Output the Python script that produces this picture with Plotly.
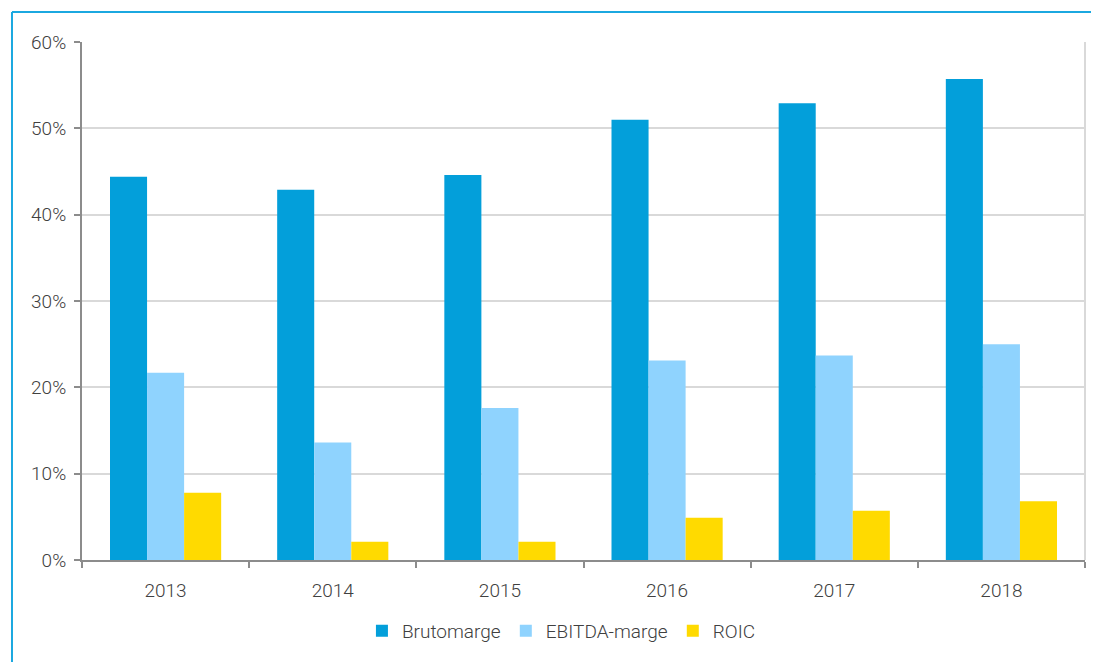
import plotly.graph_objects as go

years = ["2013", "2014", "2015", "2016", "2017", "2018"]
brutomarge = [44.4, 42.9, 44.6, 51.0, 52.9, 55.7]
ebitda_marge = [21.7, 13.6, 17.6, 23.1, 23.7, 25.0]
roic = [7.8, 2.1, 2.1, 4.9, 5.7, 6.8]

y_ticks = [0, 10, 20, 30, 40, 50, 60]
y_labels = ["0%", "10%", "20%", "30%", "40%", "50%", "60%"]

font_family = "Roboto, sans-serif"

fig = go.Figure()
fig.add_trace(go.Bar(x=years, y=brutomarge, name="Brutomarge", marker=dict(color="#039FDA", line_width=0)))
fig.add_trace(go.Bar(x=years, y=ebitda_marge, name="EBITDA-marge", marker=dict(color="#8FD3FE", line_width=0)))
fig.add_trace(go.Bar(x=years, y=roic, name="ROIC", marker=dict(color="#FFDA00", line_width=0)))

# page body has an 8px margin, so the figure is a bit smaller than the window
fig.update_layout(
    width=1091, height=654,
    margin=dict(l=74, r=14, t=34, b=98),
    paper_bgcolor="white", plot_bgcolor="white",
    barmode="group", bargap=0.335, bargroupgap=0,
    font=dict(family=font_family, size=19, color="#404040", weight=300),
    showlegend=True,
    legend=dict(orientation="h", x=0.478, y=-0.1, xanchor="center", yanchor="top",
                font=dict(size=19, color="#404040", weight=300), traceorder="normal"),
    xaxis=dict(showline=True, linecolor="#8C8C8C", linewidth=2, ticks="outside",
               ticklen=6, tickcolor="#8C8C8C", tickwidth=2, showgrid=False,
               tickson="boundaries", ticklabelstandoff=12),
    yaxis=dict(range=[0, 60], tickvals=y_ticks, ticktext=y_labels, showline=True,
               linecolor="#8C8C8C", linewidth=2, ticks="outside", ticklen=6,
               tickcolor="#8C8C8C", tickwidth=2, gridcolor="#D9D9D9", gridwidth=2,
               zeroline=False, ticklabelstandoff=4),
)

# right border of the plot area
fig.add_shape(type="line", xref="paper", yref="paper", x0=1, x1=1, y0=0, y1=1,
              line=dict(color="#D9D9D9", width=2))

# outer blue frame
fig.add_shape(type="line", xref="paper", yref="paper", x0=-0.0698, x1=-0.0698,
              y0=1.058, y1=-0.2, line=dict(color="#1BA8E0", width=2))
fig.add_shape(type="line", xref="paper", yref="paper", x0=-0.0698, x1=1.02,
              y0=1.058, y1=1.058, line=dict(color="#1BA8E0", width=2))

fig.write_html("out.html")
